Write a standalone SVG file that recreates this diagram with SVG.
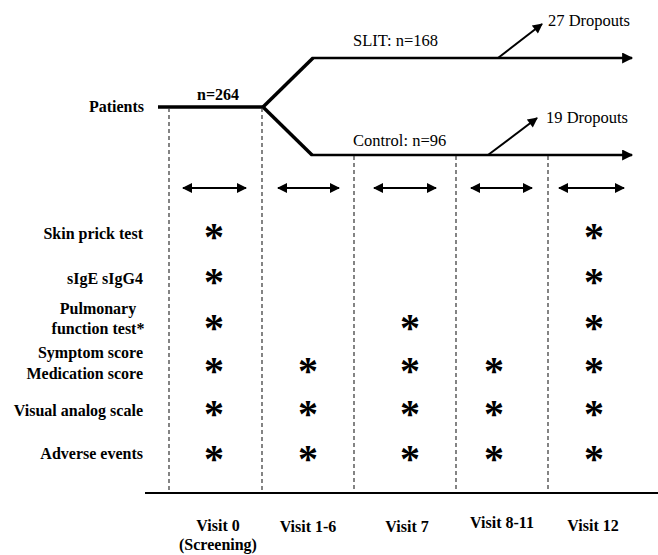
<svg xmlns="http://www.w3.org/2000/svg" width="658" height="555" viewBox="0 0 658 555">
<style>
text{font-family:"Liberation Serif","Times New Roman",serif;fill:#000}
.b{font-weight:bold;font-size:16px}
.n{font-size:16.5px}
.r{text-anchor:end}
.m{text-anchor:middle}
.ast{font-weight:bold;font-size:40px;text-anchor:middle}
.dash{stroke:#333;stroke-width:1.2;stroke-dasharray:4,3;fill:none}
.thick{stroke:#000;stroke-width:3.5;fill:none}
.arm{stroke:#000;stroke-width:2.5;fill:none}
.thin{stroke:#000;stroke-width:2;fill:none}
</style>
<defs>
<marker id="ah" viewBox="0 0 10 10" refX="9" refY="5" markerWidth="5" markerHeight="4.4" markerUnits="strokeWidth" orient="auto-start-reverse">
<path d="M0,0 L10,5 L0,10 z" fill="#000"/>
</marker>
<marker id="ah2" viewBox="0 0 10 10" refX="9" refY="5" markerWidth="6" markerHeight="5" markerUnits="strokeWidth" orient="auto-start-reverse">
<path d="M0,0 L10,5 L0,10 z" fill="#000"/>
</marker>
</defs>
<rect width="658" height="555" fill="#fff"/>

<g id="connectors">
<line class="thick" x1="158" y1="107" x2="263" y2="107"/>
<polyline class="thick" points="263,107 313,58"/>
<polyline class="thick" points="263,107 312,155"/>
<line class="arm" x1="312" y1="58" x2="632" y2="58" marker-end="url(#ah)"/>
<line class="arm" x1="311" y1="155" x2="632" y2="155" marker-end="url(#ah)"/>
<line class="thin" x1="498" y1="58" x2="542" y2="24" marker-end="url(#ah2)"/>
<line class="thin" x1="488" y1="155" x2="537" y2="118" marker-end="url(#ah2)"/>
<line class="dash" x1="169" y1="108" x2="169" y2="492"/>
<line class="dash" x1="262" y1="108" x2="262" y2="492"/>
<line class="dash" x1="354" y1="156" x2="354" y2="492"/>
<line class="dash" x1="456" y1="156" x2="456" y2="492"/>
<line class="dash" x1="548" y1="156" x2="548" y2="492"/>
<line class="thin" x1="145" y1="493" x2="658" y2="493"/>
<line class="thin" x1="183" y1="188" x2="246" y2="188" marker-start="url(#ah2)" marker-end="url(#ah2)"/>
<line class="thin" x1="278" y1="188" x2="339" y2="188" marker-start="url(#ah2)" marker-end="url(#ah2)"/>
<line class="thin" x1="374" y1="188" x2="436" y2="188" marker-start="url(#ah2)" marker-end="url(#ah2)"/>
<line class="thin" x1="471" y1="188" x2="532" y2="188" marker-start="url(#ah2)" marker-end="url(#ah2)"/>
<line class="thin" x1="559" y1="188" x2="624" y2="188" marker-start="url(#ah2)" marker-end="url(#ah2)"/>
</g>

<g id="flow-labels">
<text class="b r" x="144" y="112">Patients</text>
<text class="b m" x="218" y="100">n=264</text>
<text class="n" x="353" y="46">SLIT: n=168</text>
<text class="n" x="353" y="146">Control: n=96</text>
<text class="n" x="548" y="26">27 Dropouts</text>
<text class="n" x="546" y="123">19 Dropouts</text>
</g>

<g id="row-labels">
<text class="b r" x="143" y="239">Skin prick test</text>
<text class="b r" x="143" y="284">sIgE sIgG4</text>
<text class="b m" x="98" y="314">Pulmonary</text>
<text class="b m" x="98" y="334">function test*</text>
<text class="b r" x="143" y="358">Symptom score</text>
<text class="b r" x="143" y="379">Medication score</text>
<text class="b r" x="143" y="416">Visual analog scale</text>
<text class="b r" x="143" y="459">Adverse events</text>
</g>

<g id="asterisks">
<text class="ast" x="214" y="250">*</text>
<text class="ast" x="214" y="295">*</text>
<text class="ast" x="214" y="341">*</text>
<text class="ast" x="214" y="384">*</text>
<text class="ast" x="214" y="427">*</text>
<text class="ast" x="214" y="472">*</text>
<text class="ast" x="308" y="384">*</text>
<text class="ast" x="308" y="427">*</text>
<text class="ast" x="308" y="472">*</text>
<text class="ast" x="410" y="341">*</text>
<text class="ast" x="410" y="384">*</text>
<text class="ast" x="410" y="427">*</text>
<text class="ast" x="410" y="472">*</text>
<text class="ast" x="494" y="384">*</text>
<text class="ast" x="494" y="427">*</text>
<text class="ast" x="494" y="472">*</text>
<text class="ast" x="594" y="250">*</text>
<text class="ast" x="594" y="295">*</text>
<text class="ast" x="594" y="341">*</text>
<text class="ast" x="594" y="384">*</text>
<text class="ast" x="594" y="427">*</text>
<text class="ast" x="594" y="472">*</text>
</g>

<g id="visit-labels">
<text class="b m" x="218" y="531">Visit 0</text>
<text class="b m" x="218" y="550">(Screening)</text>
<text class="b m" x="308" y="532">Visit 1-6</text>
<text class="b m" x="407" y="532">Visit 7</text>
<text class="b m" x="502" y="528">Visit 8-11</text>
<text class="b m" x="593" y="531">Visit 12</text>
</g>
</svg>
